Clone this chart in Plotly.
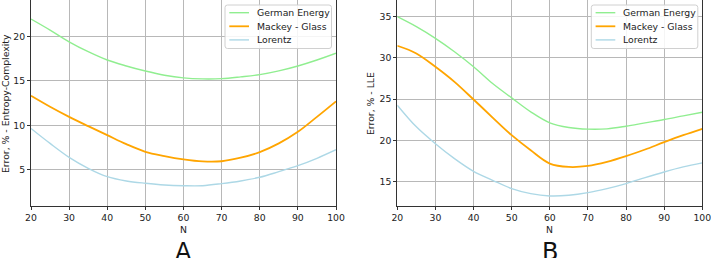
import plotly.graph_objects as go

N = [20, 25, 30, 35, 40, 45, 50, 55, 60, 65, 70, 75, 80, 85, 90, 95, 100]

# Panel A: Error, % - Entropy-Complexity
a_german = [21.94, 20.70, 19.38, 18.27, 17.34, 16.67, 16.10, 15.63, 15.33, 15.22, 15.25, 15.45, 15.70, 16.12, 16.67, 17.34, 18.10]
a_mackey = [13.32, 12.09, 10.96, 9.92, 8.91, 7.90, 7.04, 6.56, 6.19, 5.96, 5.98, 6.38, 7.00, 7.98, 9.28, 10.96, 12.70]
a_lorentz = [9.66, 7.98, 6.42, 5.19, 4.25, 3.77, 3.51, 3.32, 3.24, 3.24, 3.47, 3.77, 4.18, 4.81, 5.48, 6.31, 7.27]

# Panel B: Error, % - LLE
b_german = [35.00, 33.79, 32.37, 30.75, 28.93, 26.90, 25.16, 23.46, 22.13, 21.56, 21.36, 21.40, 21.72, 22.13, 22.53, 22.98, 23.42]
b_mackey = [31.48, 30.55, 28.93, 27.10, 24.96, 22.77, 20.63, 18.80, 17.19, 16.78, 16.90, 17.39, 18.08, 18.89, 19.78, 20.63, 21.40]
b_lorentz = [24.27, 21.64, 19.60, 17.79, 16.25, 15.16, 14.15, 13.54, 13.26, 13.34, 13.66, 14.15, 14.76, 15.49, 16.17, 16.78, 17.27]

names = ["German Energy", "Mackey - Glass", "Lorentz"]
colors = ["#90EE90", "#FFA500", "#ADD8E6"]
widths = [1.4, 1.8, 1.4]
x_ticks = [20, 30, 40, 50, 60, 70, 80, 90, 100]
y_ticks_a = [5, 10, 15, 20]
y_ticks_b = [15, 20, 25, 30, 35]
y_title_a = "Error, % - Entropy-Complexity"
y_title_b = "Error, % - LLE"
x_title = "N"
panel_letters = ["A", "B"]

W, H = 711, 258
FONT_FAMILY = "DejaVu Sans"
FS = 9.3


def px(x):
    return x / W


def py(y):
    return 1 - y / H


fig = go.Figure()
for ys, nm, c, w in zip([a_german, a_mackey, a_lorentz], names, colors, widths):
    fig.add_trace(go.Scatter(x=N, y=ys, mode="lines", name=nm, line=dict(color=c, width=w, shape="spline"),
                             xaxis="x", yaxis="y", showlegend=False, hoverinfo="skip"))
for ys, nm, c, w in zip([b_german, b_mackey, b_lorentz], names, colors, widths):
    fig.add_trace(go.Scatter(x=N, y=ys, mode="lines", name=nm, line=dict(color=c, width=w, shape="spline"),
                             xaxis="x2", yaxis="y2", showlegend=False, hoverinfo="skip"))

font = dict(family=FONT_FAMILY, size=FS, color="#222")
ax_common = dict(showgrid=True, gridcolor="#b8b8b8", gridwidth=1, showline=True, linecolor="#333",
                 linewidth=1, mirror=True, ticks="outside", ticklen=3, tickcolor="#333",
                 zeroline=False, tickfont=font, automargin=False, ticklabeloverflow="allow")

# plot areas in pixels
PA = dict(x0=31, x1=336, y0=0, y1=206)
PB = dict(x0=397.3, x1=702.3, y0=0, y1=206)

annotations = []
shapes = []

for P, ytitle, yt_x, letter in [(PA, y_title_a, 5, panel_letters[0]), (PB, y_title_b, 370, panel_letters[1])]:
    cx = (P["x0"] + P["x1"]) / 2
    cy = (P["y0"] + P["y1"]) / 2
    annotations.append(dict(text=ytitle, x=px(yt_x), y=py(cy + 1), xref="paper", yref="paper", showarrow=False,
                            textangle=-90, font=font, xanchor="center", yanchor="middle"))
    annotations.append(dict(text=x_title, x=px(cx), y=py(229), xref="paper", yref="paper", showarrow=False,
                            font=font, xanchor="center", yanchor="middle"))
    annotations.append(dict(text=letter, x=px(cx), y=py(252), xref="paper", yref="paper", showarrow=False,
                            font=dict(family=FONT_FAMILY, size=24, color="#111"), xanchor="center", yanchor="middle"))

    # legend box (matplotlib-like, rounded corners)
    bx1 = P["x1"] - 4.5
    bx0 = bx1 - 106.5
    by0, by1 = 5, 48.5
    r = 2.5
    path = (f"M {px(bx0 + r)},{py(by0)} L {px(bx1 - r)},{py(by0)} Q {px(bx1)},{py(by0)} {px(bx1)},{py(by0 + r)} "
            f"L {px(bx1)},{py(by1 - r)} Q {px(bx1)},{py(by1)} {px(bx1 - r)},{py(by1)} "
            f"L {px(bx0 + r)},{py(by1)} Q {px(bx0)},{py(by1)} {px(bx0)},{py(by1 - r)} "
            f"L {px(bx0)},{py(by0 + r)} Q {px(bx0)},{py(by0)} {px(bx0 + r)},{py(by0)} Z")
    shapes.append(dict(type="path", path=path, xref="paper", yref="paper",
                       fillcolor="rgba(255,255,255,0.85)", line=dict(color="#d0d0d0", width=1), layer="above"))
    for i, (nm, c, w) in enumerate(zip(names, colors, widths)):
        ry = 12.7 + i * 13.6
        shapes.append(dict(type="line", xref="paper", yref="paper", x0=px(bx0 + 4.3), x1=px(bx0 + 24),
                           y0=py(ry), y1=py(ry), line=dict(color=c, width=w), layer="above"))
        annotations.append(dict(text=nm, x=px(bx0 + 29.5), y=py(ry), xref="paper", yref="paper", showarrow=False,
                                font=font, xanchor="left", yanchor="middle"))

fig.update_layout(
    width=W, height=H,
    margin=dict(l=0, r=0, t=0, b=0),
    paper_bgcolor="white", plot_bgcolor="white",
    showlegend=False,
    hovermode=False,
    xaxis=dict(domain=[px(PA["x0"]), px(PA["x1"])], range=[20, 100], tickvals=x_ticks, anchor="y", **ax_common),
    yaxis=dict(domain=[py(PA["y1"]), 1], range=[0.96, 24.07], tickvals=y_ticks_a, anchor="x", **ax_common),
    xaxis2=dict(domain=[px(PB["x0"]), px(PB["x1"])], range=[20, 100], tickvals=x_ticks, anchor="y2", **ax_common),
    yaxis2=dict(domain=[py(PB["y1"]), 1], range=[12.04, 37.03], tickvals=y_ticks_b, anchor="x2", **ax_common),
    annotations=annotations,
    shapes=shapes,
)

fig.write_html("out.html",
               config={"displayModeBar": False, "staticPlot": True},
               post_script="document.body.style.margin='0';document.body.style.padding='0';"
                           "document.body.style.overflow='hidden';")
